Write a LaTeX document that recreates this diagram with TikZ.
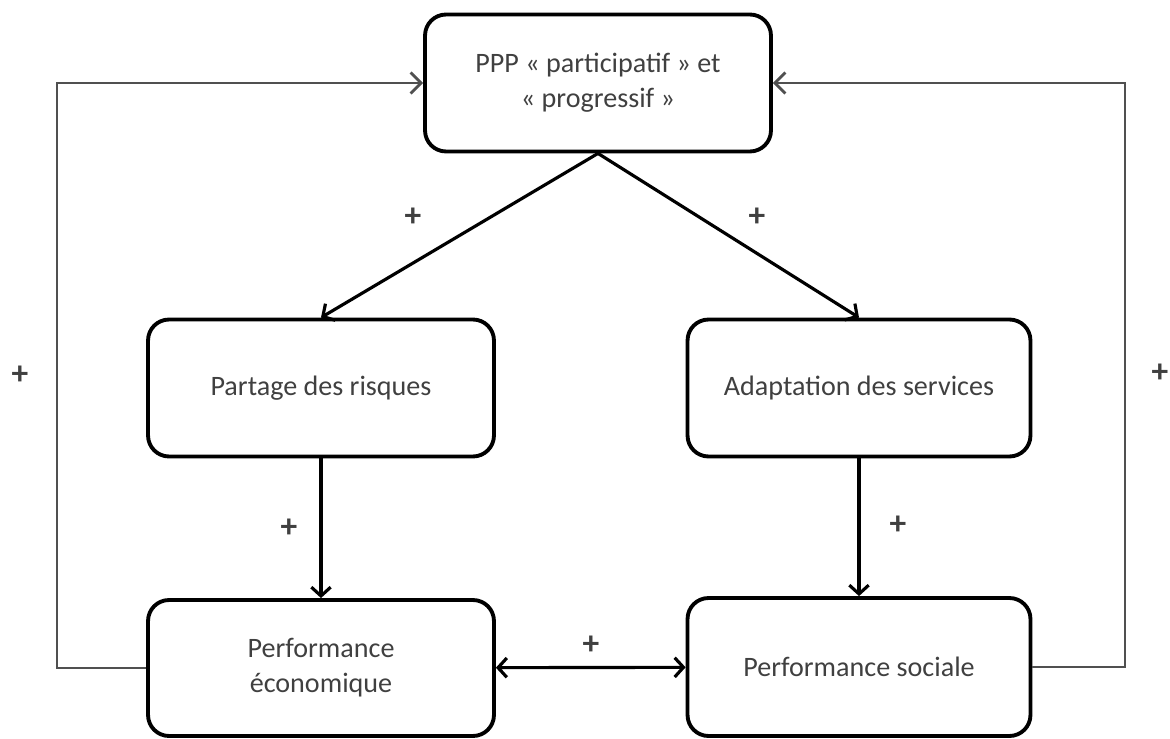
\documentclass[tikz,border=0pt]{standalone}
\usepackage{fontspec}
\setmainfont{Carlito}
\usetikzlibrary{arrows.meta}
\definecolor{labelgray}{RGB}{64,64,64}
\definecolor{railgray}{RGB}{80,80,80}

\begin{document}
\begin{tikzpicture}[x=0.02cm,y=0.02cm,
    box/.style={draw=black,line width=2.2pt,rounded corners=0.42cm,minimum width=6.92cm,minimum height=2.74cm,align=center,text=labelgray,font=\fontsize{16}{20}\selectfont},
    link/.style={-{Straight Barb[length=5pt,width=11pt]},line width=1.8pt},
    feedback/.style={-{Straight Barb[length=6pt,width=12pt,line width=1.6pt]},line width=1.1pt,railgray},
    sign/.style={text=labelgray,font=\fontsize{19}{20}\selectfont\bfseries}]
  \useasboundingbox (0,0) rectangle (1170,738);
  \node[box] (ppp) at (598,655) {PPP « participatif » et\\« progressif »};
  \node[box] (riskShare) at (321,350) {Partage des risques};
  \node[box,minimum width=6.86cm] (serviceAdapt) at (859,350) {Adaptation des services};
  \node[box,minimum height=2.72cm] (ecoPerf) at (321,70) {Performance\\économique};
  \node[box,minimum width=6.86cm,minimum height=2.76cm] (socPerf) at (859,71) {Performance sociale};
  \coordinate (leftRail) at (57,350);
  \coordinate (rightRail) at (1125,350);
  \draw[link] (ppp.south) -- (riskShare.north);
  \draw[link] (ppp.south) -- (serviceAdapt.north);
  \draw[link] (riskShare) -- (ecoPerf);
  \draw[link] (serviceAdapt) -- (socPerf);
  \draw[link,{Straight Barb[length=5pt,width=11pt]}-{Straight Barb[length=5pt,width=11pt]}] (ecoPerf) -- (socPerf);
  \draw[feedback] (ecoPerf.west) -| (leftRail) |- (ppp.west);
  \draw[feedback] (socPerf.east) -| (rightRail) |- (ppp.east);
  \node[sign] (plusA) at (413,521) {+};
  \node[sign] (plusB) at (757,521) {+};
  \node[sign] (plusC) at (289,210) {+};
  \node[sign] (plusD) at (898,213) {+};
  \node[sign] (plusE) at (591,93) {+};
  \node[sign] (plusF) at (20,363) {+};
  \node[sign] (plusG) at (1160,365) {+};
\end{tikzpicture}
\end{document}
